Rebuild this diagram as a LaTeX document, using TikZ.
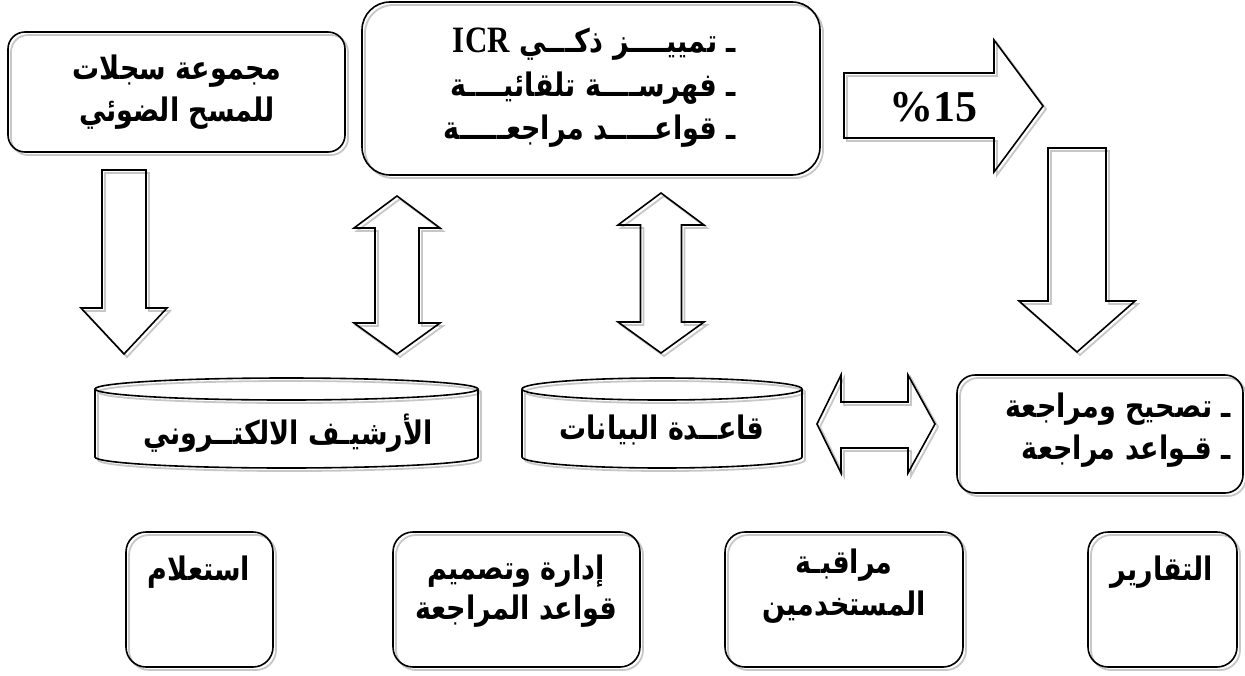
\documentclass[tikz,border=0pt]{standalone}
\usepackage{fontspec}
\TeXXeTstate=1
\newfontfamily\arabicfont[Script=Arabic]{DejaVu Sans}
\newfontfamily\latinserif{Liberation Serif}
\newcommand\ar[1]{{\arabicfont\bfseries\beginR #1\endR}}
\newcommand\sdraw[1]{\draw[shd,shift={(3,3)}] #1;\draw[bl] #1;}
\begin{document}
\begin{tikzpicture}[x=1pt,y=-1pt,
  shd/.style={draw=black!22, line width=1.8pt, line join=miter},
  bl/.style={draw=black, line width=1.6pt, line join=miter},
  box/.style={draw=black, line width=1.6pt, inner sep=0pt,
    preaction={draw=black!22, line width=1.8pt, transform canvas={shift={(3pt,-3pt)}}}},
  txt/.style={inner sep=0pt, align=center, transform shape, yscale=1.2, font=\fontsize{27pt}{35pt}\selectfont},
  bigtxt/.style={txt, font=\fontsize{27pt}{36.25pt}\selectfont}]
\useasboundingbox (0,0) rectangle (1245,675);

% top boxes
\node[box, rounded corners=17pt, minimum width=337pt, minimum height=120pt] (b1) at (176.5,92) {};
\node[txt] (t1) at (177,92) {\ar{مجموعة سجلات}\\\ar{للمسح الضوئي}};

\node[box, rounded corners=28pt, minimum width=458pt, minimum height=173pt] (b2) at (591,88.5) {};
\node[bigtxt, align=right, anchor=east] (t2) at (736,88) {\ar{ـ تمييــــز ذكـــي \hbox{\latinserif\bfseries\fontsize{31pt}{31pt}\selectfont ICR}}\\\ar{ـ فهرســــة تلقائيــــة}\\\ar{ـ قواعـــــد مراجعـــــة}};

% %15 arrow
\sdraw{(844,73) -- (994,73) -- (994,40) -- (1043,106) -- (994,172) -- (994,138) -- (844,138) -- cycle}
\node[inner sep=0pt, font=\latinserif\bfseries\fontsize{44pt}{48pt}\selectfont] (p15) at (933,107) {\%15};

% right down arrow
\sdraw{(1048,148) -- (1106,148) -- (1106,301) -- (1135,301) -- (1077,352) -- (1019,301) -- (1048,301) -- cycle}

% left down arrow
\sdraw{(102,170) -- (146,170) -- (146,308) -- (167,308) -- (124,354) -- (81,308) -- (102,308) -- cycle}

% double arrows vertical
\sdraw{(397,196) -- (440,228) -- (419,228) -- (419,323) -- (440,323) -- (397,354) -- (354,323) -- (375,323) -- (375,228) -- (354,228) -- cycle}
\sdraw{(661,193) -- (704,225) -- (681.5,225) -- (681.5,322) -- (704,322) -- (661,353) -- (618,322) -- (640.5,322) -- (640.5,225) -- (618,225) -- cycle}

% horizontal double arrow
\sdraw{(817,424) -- (841,375) -- (841,402) -- (908,402) -- (908,375) -- (935,424) -- (908,473) -- (908,448) -- (841,448) -- (841,473) -- cycle}

% cylinders
\sdraw{(286.5,389) ellipse [x radius=191.5pt, y radius=11pt]}
\sdraw{(95,389) -- (95,457) arc [start angle=180, end angle=360, x radius=191.5pt, y radius=11pt] -- (478,389)}
\node[txt] (c1) at (288,433) {\ar{الأرشيـف الالكتــروني}};

\sdraw{(662,389) ellipse [x radius=140pt, y radius=11pt]}
\sdraw{(522,389) -- (522,457) arc [start angle=180, end angle=360, x radius=140pt, y radius=11pt] -- (802,389)}
\node[txt] (c2) at (662,430) {\ar{قاعــدة البيانات}};

% correction box
\node[box, rounded corners=18pt, minimum width=286pt, minimum height=118pt] (b3) at (1100,434) {};
\node[txt, align=right, anchor=east] (t3) at (1231,430) {\ar{ـ تصحيح ومراجعة}\\\ar{ـ قـواعد مراجعة}};

% bottom boxes
\node[box, rounded corners=20pt, minimum width=147pt, minimum height=135pt] (d1) at (199.5,599.5) {};
\node[txt] (s1) at (199,572) {\ar{استعلام}};

\node[box, rounded corners=20pt, minimum width=247pt, minimum height=135pt] (d2) at (516.5,599.5) {};
\node[txt, font=\fontsize{27pt}{33.3pt}\selectfont] (s2) at (516,591) {\ar{إدارة وتصميم}\\\ar{قواعد المراجعة}};

\node[box, rounded corners=20pt, minimum width=238pt, minimum height=135pt] (d3) at (844,599.5) {};
\node[txt, font=\fontsize{27pt}{35pt}\selectfont] (s3) at (844,586) {\ar{مراقبـة}\\\ar{المستخدمين}};

\node[box, rounded corners=20pt, minimum width=149pt, minimum height=135pt] (d4) at (1162.5,599.5) {};
\node[txt] (s4) at (1162,572) {\ar{التقارير}};
\end{tikzpicture}
\end{document}
